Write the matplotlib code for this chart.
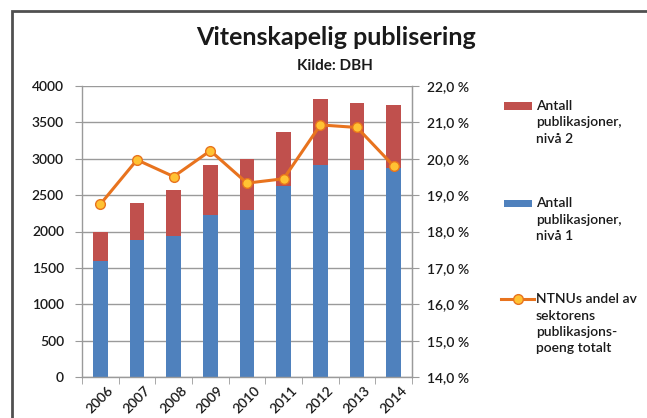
import numpy as np
import matplotlib
matplotlib.use('Agg')
import matplotlib.pyplot as plt
import matplotlib.patches as mpatches
from matplotlib.lines import Line2D
from matplotlib.ticker import FuncFormatter, MultipleLocator

plt.rcParams['font.family'] = ['Lato', 'DejaVu Sans']

years = ['2006', '2007', '2008', '2009', '2010', '2011', '2012', '2013', '2014']
niva1 = [1600, 1880, 1940, 2230, 2290, 2620, 2920, 2850, 2870]
totalt = [2000, 2390, 2570, 2910, 3000, 3370, 3820, 3760, 3740]
andel = [18.75, 19.97, 19.51, 20.22, 19.33, 19.45, 20.93, 20.86, 19.80]

niva2 = [t - n for t, n in zip(totalt, niva1)]

RED = '#C0504D'
BLUE = '#4F81BD'
ORANGE = '#E8731E'
MARKER = '#FFC233'
GRID = '#9a9a9a'
TXT = '#1a1a1a'

W, H = 647, 418


def px(x, y):
    # piksel (fra øvre venstre hjørne) -> figurkoordinater
    return x / W, 1 - y / H


fig = plt.figure(figsize=(W / 100, H / 100), dpi=100)

# ramme rundt hele figuren (bare topp og venstre synlig)
fig.patches.append(mpatches.Rectangle(px(11.5, 500), 2.0, (500 - 11) / H,
                                      transform=fig.transFigure, fill=False,
                                      edgecolor='#505050', linewidth=2.0))

ax1 = fig.add_axes([82 / W, 1 - 377 / H, 330 / W, 291 / H])
x = np.arange(len(years))

ax1.bar(x, niva1, width=0.4, color=BLUE, zorder=2)
ax1.bar(x, niva2, width=0.4, bottom=niva1, color=RED, zorder=2)

ax1.set_xlim(-0.5, len(years) - 0.5)
ax1.set_ylim(0, 4000)
ax1.yaxis.set_major_locator(MultipleLocator(500))
ax1.grid(axis='y', color=GRID, linewidth=1.0, zorder=0)
ax1.set_axisbelow(True)

ax1.set_xticks(x)
ax1.set_xticklabels(years, rotation=45, ha='center', va='top', fontsize=10,
                    color=TXT, fontweight='semibold')
ax1.set_xticks(np.arange(-0.5, len(years), 1.0), minor=True)
ax1.tick_params(axis='x', which='major', length=0, pad=5)
ax1.tick_params(axis='x', which='minor', length=5, color=GRID, direction='out')
ax1.tick_params(axis='y', length=5, color=GRID, labelsize=10, labelcolor=TXT, pad=8)
for lab in ax1.get_yticklabels():
    lab.set_fontweight('semibold')

ax1.spines['top'].set_visible(False)
for side in ['left', 'right', 'bottom']:
    ax1.spines[side].set_color(GRID)
    ax1.spines[side].set_linewidth(1.0)

ax2 = ax1.twinx()
ax2.plot(x, andel, color=ORANGE, linewidth=2.2, marker='o', markersize=7,
         markerfacecolor=MARKER, markeredgecolor=ORANGE, markeredgewidth=1.0, zorder=3)
ax2.set_ylim(14, 22)
ax2.yaxis.set_major_locator(MultipleLocator(1))
ax2.yaxis.set_major_formatter(FuncFormatter(lambda v, p: f'{v:.1f}'.replace('.', ',') + ' %'))
ax2.tick_params(axis='y', length=5, color=GRID, labelsize=10, labelcolor=TXT, pad=6)
for lab in ax2.get_yticklabels():
    lab.set_fontweight('semibold')
for side in ['top', 'left', 'bottom']:
    ax2.spines[side].set_visible(False)
ax2.spines['right'].set_color(GRID)

fig.text(*px(336, 45), 'Vitenskapelig publisering', ha='center', va='baseline',
         fontsize=18, fontweight='bold', color=TXT)
fig.text(*px(335, 70), 'Kilde: DBH', ha='center', va='baseline',
         fontsize=11, fontweight='bold', color=TXT)

# legende (tegnet for hånd slik at symbolet står ved første linje)
legend_rows = [
    (106, 'patch', RED, 'Antall\npublikasjoner,\nnivå 2'),
    (203, 'patch', BLUE, 'Antall\npublikasjoner,\nnivå 1'),
    (299, 'line', ORANGE, 'NTNUs andel av\nsektorens\npublikasjons-\npoeng totalt'),
]
for ymid, kind, col, label in legend_rows:
    if kind == 'patch':
        x0, y0 = px(504, ymid + 3.5)
        fig.patches.append(mpatches.Rectangle((x0, y0), 28 / W, 7 / H,
                                              transform=fig.transFigure,
                                              facecolor=col, edgecolor='none'))
    else:
        xa, ya = px(501, ymid)
        xb, _ = px(534, ymid)
        fig.add_artist(Line2D([xa, xb], [ya, ya], transform=fig.transFigure,
                              color=col, linewidth=2.2))
        xm, _ = px(518, ymid)
        fig.add_artist(Line2D([xm], [ya], transform=fig.transFigure, marker='o',
                              markersize=7, markerfacecolor=MARKER,
                              markeredgecolor=col, markeredgewidth=1.0))
    fig.text(*px(536, ymid - 6), label, ha='left', va='top',
             fontsize=10, fontweight='semibold', color=TXT, linespacing=1.45)

fig.savefig('out.png', dpi=100)
